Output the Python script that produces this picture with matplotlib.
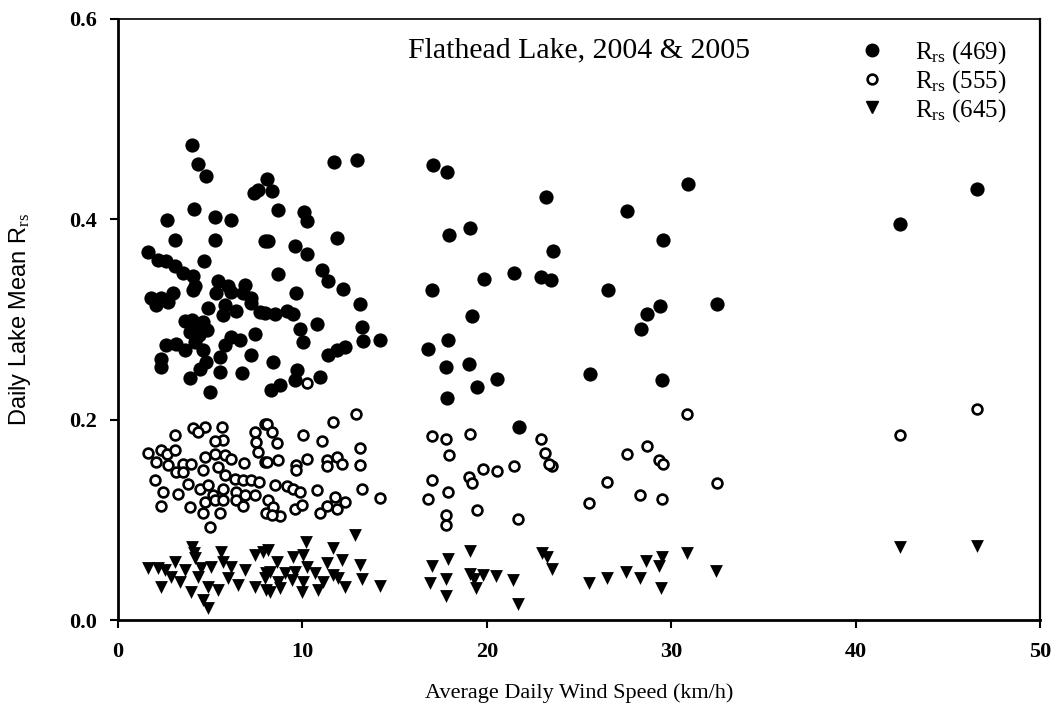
import matplotlib
matplotlib.use("Agg")
import matplotlib.pyplot as plt
from matplotlib.lines import Line2D

plt.rcParams["font.family"] = ["Liberation Serif", "DejaVu Serif"]
plt.rcParams["mathtext.fontset"] = "custom"
plt.rcParams["mathtext.rm"] = "Liberation Serif"
plt.rcParams["mathtext.it"] = "Liberation Serif:italic"

# Rrs(469) - filled circles
wind_469 = [4.01, 4.34, 4.75, 7.6, 7.4, 8.06, 8.33, 11.73, 12.94,
            4.12, 2.64, 5.24, 6.15, 8.66, 10.1, 10.23,
            3.11, 5.24, 7.95, 8.12, 11.86, 9.6, 10.23,
            1.63, 2.17, 2.62, 3.07, 3.52, 4.07, 4.66, 4.16,
            5.42, 5.97, 6.87, 8.69, 11.08, 11.4, 12.19,
            2.98, 4.07, 7.2, 9.65, 13.12,
            1.8, 2.35, 2.08, 2.71, 5.33, 6.15, 6.78,
            4.88, 5.78, 5.69, 6.42, 7.23, 7.68,
            7.97, 8.51, 9.15, 9.51, 10.77, 9.87, 10.05, 13.21, 13.3, 14.2,
            3.61, 4.0, 4.3, 4.6, 3.9, 4.4, 4.8, 4.2, 7.41, 6.15, 6.6, 5.78,
            2.62, 3.16, 3.61, 4.61, 7.23, 5.51, 2.35, 2.35,
            4.79, 4.43, 3.89, 5.51, 6.72, 4.97, 8.3, 8.79,
            11.4, 11.86, 12.31, 8.42, 9.69, 9.6, 10.95,
            17.07, 17.82, 23.2, 30.9, 27.62, 19.09, 17.97, 23.57, 29.54, 21.49,
            22.92, 23.46, 19.86, 17.01, 26.55, 32.46, 29.39, 28.67, 28.34, 19.18,
            17.91, 16.83, 17.79, 19.05, 20.57, 19.49, 17.86, 25.6, 29.5, 21.76,
            42.4, 46.6]
rrs_469 = [0.474, 0.455, 0.443, 0.429, 0.426, 0.440, 0.428, 0.457, 0.459,
           0.410, 0.399, 0.402, 0.399, 0.409, 0.407, 0.398,
           0.379, 0.379, 0.378, 0.378, 0.381, 0.373, 0.365,
           0.367, 0.359, 0.358, 0.353, 0.346, 0.343, 0.358, 0.333,
           0.338, 0.333, 0.334, 0.345, 0.349, 0.338, 0.330,
           0.326, 0.329, 0.321, 0.326, 0.315,
           0.321, 0.321, 0.314, 0.317, 0.326, 0.327, 0.326,
           0.311, 0.314, 0.304, 0.308, 0.316, 0.307,
           0.306, 0.305, 0.308, 0.305, 0.296, 0.291, 0.278, 0.293, 0.279, 0.280,
           0.299, 0.300, 0.295, 0.298, 0.288, 0.285, 0.290, 0.278, 0.286, 0.283, 0.280, 0.275,
           0.275, 0.276, 0.270, 0.270, 0.265, 0.263, 0.261, 0.253,
           0.258, 0.251, 0.242, 0.248, 0.247, 0.228, 0.230, 0.235,
           0.265, 0.270, 0.273, 0.258, 0.250, 0.240, 0.243,
           0.454, 0.447, 0.422, 0.435, 0.408, 0.391, 0.384, 0.368, 0.379, 0.346,
           0.342, 0.339, 0.340, 0.329, 0.329, 0.315, 0.313, 0.305, 0.291, 0.303,
           0.280, 0.271, 0.253, 0.256, 0.241, 0.233, 0.222, 0.246, 0.240, 0.193,
           0.395, 0.430]

# Rrs(555) - open circles
wind_555 = [3.11, 4.07, 4.70, 4.34, 5.64, 5.69, 5.24, 7.41, 7.95, 7.5, 7.59, 7.95,
            1.63, 2.35, 2.67, 3.11, 2.08, 2.71, 3.52, 3.98, 4.70, 5.24, 5.78, 6.15, 6.83,
            2.03, 3.16, 3.52, 4.61, 5.42, 5.78, 6.33, 6.78, 7.23, 7.63,
            2.44, 3.25, 3.80, 4.43, 4.88, 5.15, 5.69, 6.42, 6.87, 7.41,
            2.35, 3.89, 4.70, 5.24, 5.69, 6.42, 6.78, 4.61, 5.51, 4.97, 8.04,
            8.06, 8.33, 8.6, 10.05, 11.05, 11.68, 12.89, 13.12, 13.12,
            8.06, 8.69, 9.64, 9.64, 10.23, 11.32, 11.86, 11.32, 12.16,
            8.51, 9.15, 9.51, 9.87, 10.77, 8.15, 8.42, 8.79, 8.33, 9.6, 9.96,
            10.95, 11.32, 11.77, 12.31, 11.86, 13.25, 14.21, 10.23,
            17.01, 17.79, 19.09, 17.97, 22.94, 23.16, 23.52, 23.39, 30.84, 28.67,
            27.6, 29.36, 29.54, 21.48, 19.81, 20.57, 19.03, 19.18, 17.01, 17.88,
            16.83, 26.53, 32.46, 28.31, 29.48, 25.56, 19.45, 17.77, 17.79, 21.71,
            42.4, 46.6]
rrs_555 = [0.185, 0.192, 0.193, 0.188, 0.193, 0.180, 0.179, 0.188, 0.196, 0.178, 0.168, 0.158,
           0.167, 0.170, 0.166, 0.170, 0.158, 0.155, 0.156, 0.156, 0.163, 0.166, 0.165, 0.161, 0.157,
           0.140, 0.148, 0.148, 0.150, 0.153, 0.145, 0.141, 0.140, 0.140, 0.138,
           0.128, 0.126, 0.136, 0.131, 0.135, 0.125, 0.131, 0.128, 0.125, 0.125,
           0.114, 0.113, 0.118, 0.120, 0.120, 0.120, 0.114, 0.107, 0.107, 0.093, 0.107,
           0.196, 0.188, 0.177, 0.185, 0.179, 0.198, 0.206, 0.172, 0.155,
           0.158, 0.160, 0.155, 0.150, 0.161, 0.160, 0.163, 0.154, 0.156,
           0.135, 0.134, 0.131, 0.128, 0.130, 0.120, 0.113, 0.104, 0.105, 0.111, 0.115,
           0.107, 0.114, 0.123, 0.118, 0.111, 0.131, 0.122, 0.237,
           0.184, 0.181, 0.186, 0.165, 0.181, 0.167, 0.154, 0.156, 0.206, 0.174,
           0.166, 0.160, 0.156, 0.154, 0.151, 0.149, 0.143, 0.137, 0.140, 0.128,
           0.121, 0.138, 0.137, 0.125, 0.121, 0.117, 0.110, 0.105, 0.095, 0.101,
           0.185, 0.211]

# Rrs(645) - filled down triangles
wind_645 = [4.01, 4.12, 5.6, 3.07, 4.16, 5.69, 7.41, 7.86,
            1.63, 2.17, 2.53, 3.61, 4.52, 5.06, 6.15, 6.87,
            2.35, 3.34, 3.98, 4.88, 5.42, 6.51, 7.41,
            2.89, 4.34, 5.97, 4.61, 4.88, 8.04, 8.04,
            12.85, 10.18, 11.68, 8.15, 9.51, 10.05, 13.12, 12.13, 8.6,
            10.23, 11.32, 8.24, 9.06, 9.6, 10.68, 11.68,
            7.97, 8.69, 9.41, 10.05, 11.13, 11.95, 13.21, 14.21,
            8.24, 8.79, 9.96, 10.86, 12.31,
            19.09, 17.91, 17.01, 16.92, 17.79, 17.79, 19.09, 19.78, 20.5, 19.41,
            19.3, 21.44, 21.71, 22.97, 23.24, 23.51, 25.56, 26.5, 27.55, 28.31,
            28.63, 29.48, 29.36, 29.43, 30.84, 32.42,
            42.4, 46.6]
rrs_645 = [0.073, 0.067, 0.068, 0.058, 0.062, 0.058, 0.065, 0.068,
           0.052, 0.052, 0.050, 0.050, 0.052, 0.053, 0.053, 0.050,
           0.033, 0.038, 0.028, 0.033, 0.030, 0.035, 0.033,
           0.043, 0.043, 0.042, 0.020, 0.012, 0.030, 0.047,
           0.085, 0.078, 0.072, 0.070, 0.063, 0.065, 0.055, 0.060, 0.058,
           0.053, 0.057, 0.048, 0.047, 0.048, 0.047, 0.045,
           0.042, 0.038, 0.040, 0.038, 0.038, 0.042, 0.041, 0.034,
           0.028, 0.032, 0.028, 0.030, 0.033,
           0.069, 0.061, 0.054, 0.037, 0.041, 0.024, 0.046, 0.045, 0.044, 0.032,
           0.041, 0.040, 0.016, 0.067, 0.063, 0.051, 0.037, 0.042, 0.048, 0.042,
           0.059, 0.063, 0.054, 0.032, 0.067, 0.049,
           0.073, 0.074]

labels = [r"R$_{\rm rs}$ (469)", r"R$_{\rm rs}$ (555)", r"R$_{\rm rs}$ (645)"]

fig = plt.figure(figsize=(10.58, 7.22), dpi=100)
ax = fig.add_axes([118 / 1058, 1 - 620 / 722, 922 / 1058, 601 / 722])

ax.scatter(wind_469, rrs_469, s=105, c="black", marker="o", linewidths=0)
ax.scatter(wind_555, rrs_555, s=50, facecolors="white", edgecolors="black",
           marker="o", linewidths=1.9)
ax.scatter(wind_645, rrs_645, s=85, c="black", marker="v", linewidths=0)

ax.set_xlim(0, 50)
ax.set_ylim(0, 0.6)
ax.set_xticks([0, 10, 20, 30, 40, 50])
ax.set_yticks([0.0, 0.2, 0.4, 0.6])
ax.set_yticklabels(["0.0", "0.2", "0.4", "0.6"])
ax.tick_params(direction="out", length=6, width=1.5, labelsize=16)
ax.tick_params(axis="y", pad=9)
ax.tick_params(axis="x", pad=10)
for lab in ax.get_xticklabels() + ax.get_yticklabels():
    lab.set_fontweight("bold")

for side in ["left", "bottom"]:
    ax.spines[side].set_linewidth(2.0)
ax.spines["top"].set_linewidth(1.2)
ax.spines["right"].set_linewidth(1.6)

ax.set_xlabel("Average Daily Wind Speed (km/h)", fontsize=16)
ax.xaxis.set_label_coords(0.5, -0.105)
ax.set_ylabel(r"Daily Lake Mean R$_{\rm rs}$", fontsize=17, va="center",
              family=["Liberation Sans Narrow", "DejaVu Sans Condensed",
                      "Liberation Sans", "DejaVu Sans"])
ax.yaxis.set_label_coords(-0.106, 0.5)

ax.text(0.5, 0.947, "Flathead Lake, 2004 & 2005", transform=ax.transAxes,
        ha="center", va="center", fontsize=21.5)

handles = [
    Line2D([], [], ls="none", marker="o", ms=9, mfc="black", mec="black"),
    Line2D([], [], ls="none", marker="o", ms=7, mfc="white", mec="black", mew=1.9),
    Line2D([], [], ls="none", marker="v", ms=8.5, mfc="black", mec="black"),
]
ax.legend(handles, labels, loc="upper left", bbox_to_anchor=(0.783, 1.0),
          frameon=False, fontsize=18, handlelength=1.0, handletextpad=1.2,
          labelspacing=0.08, borderpad=0.3)

fig.savefig("out.png", dpi=100)
